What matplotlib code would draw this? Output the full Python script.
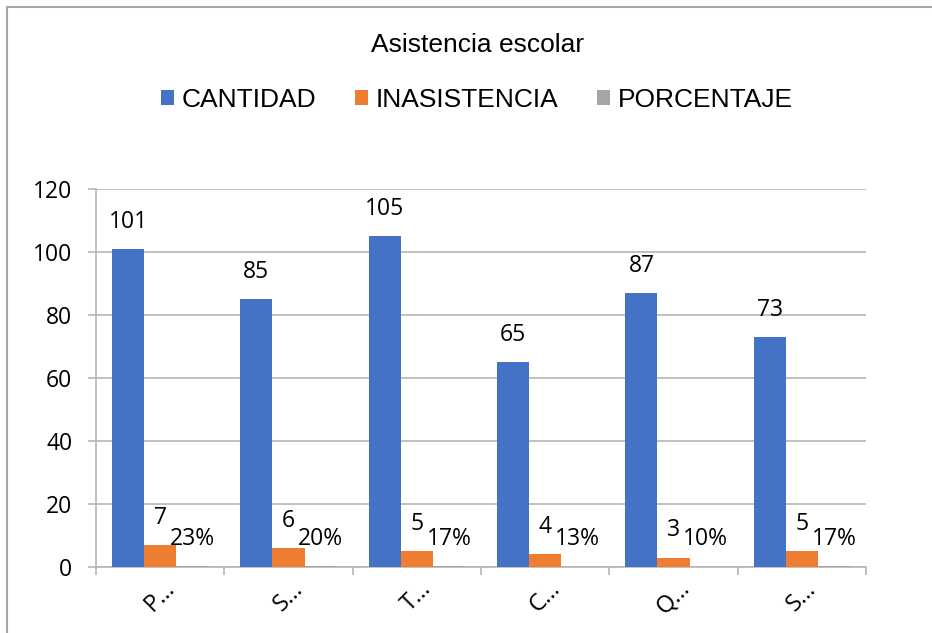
import matplotlib
matplotlib.use("Agg")
import matplotlib.pyplot as plt
from matplotlib.patches import Rectangle, Patch
import numpy as np

categorias = ["P…", "S…", "T…", "C…", "Q…", "S…"]
cantidad = [101, 85, 105, 65, 87, 73]
inasistencia = [7, 6, 5, 4, 3, 5]
porcentaje = [0.23, 0.20, 0.17, 0.13, 0.10, 0.17]
series = ["CANTIDAD", "INASISTENCIA", "PORCENTAJE"]
colores = ["#4472C4", "#ED7D31", "#A5A5A5"]

num_font = "Open Sans"
txt_font = "Liberation Sans"

fig = plt.figure(figsize=(9.32, 6.33), dpi=100)
fig.patch.set_facecolor("white")

# marco del grafico (recortado a la derecha y abajo)
fig.patches.append(Rectangle((7 / 932, -0.1), 2, 1 - 7 / 633 + 0.1,
                             transform=fig.transFigure, fill=False,
                             edgecolor="#a6a6a6", lw=1.5))

ax = fig.add_axes([96 / 932, 66 / 633, 770 / 932, 378 / 633])

x = np.arange(len(categorias))
w = 0.25
valores = [cantidad, inasistencia, porcentaje]
for i, (vals, col) in enumerate(zip(valores, colores)):
    pos = x + (i - 1) * w
    ax.bar(pos, vals, width=w, color=col, zorder=3)
    for xp, v in zip(pos, vals):
        if i == 2:
            lab = "%d%%" % round(v * 100)
        else:
            lab = str(v)
        ax.annotate(lab, (xp, v), xytext=(0, 11), textcoords="offset points",
                    ha="center", va="bottom", fontsize=16.5, family=num_font,
                    color="#000000")

ax.set_xlim(-0.5, len(categorias) - 0.5)
ax.set_ylim(0, 120)
ax.set_yticks(range(0, 121, 20))
ax.yaxis.grid(True, color="#b5b5b5", lw=1.2, zorder=0)

ax.set_xticks(x)
ax.set_xticklabels(categorias, rotation=45, ha="center", va="top",
                   fontsize=17, family=num_font)
ax.set_xticks(np.arange(-0.5, len(categorias)), minor=True)
ax.tick_params(axis="x", which="major", length=0, pad=7)
ax.tick_params(axis="x", which="minor", length=6, width=1.2, color="#b5b5b5")
ax.tick_params(axis="y", length=6, width=1.2, color="#b5b5b5", pad=11,
               labelsize=16.5)
for t in ax.get_yticklabels():
    t.set_family(num_font)

for s in ["top", "right"]:
    ax.spines[s].set_visible(False)
for s in ["left", "bottom"]:
    ax.spines[s].set_color("#b5b5b5")
    ax.spines[s].set_linewidth(1.2)

fig.text(0.512, 1 - 45 / 633, "Asistencia escolar", ha="center", va="center",
         fontsize=19, family=txt_font, color="#000000")

handles = [Patch(facecolor=c, edgecolor="none") for c in colores]
fig.legend(handles, series, loc="center", bbox_to_anchor=(0.512, 1 - 100 / 633),
           ncol=3, frameon=False, prop={"family": txt_font, "size": 19},
           handlelength=0.5, handleheight=0.5, handletextpad=0.3,
           columnspacing=1.45)

plt.savefig("out.png", dpi=100)
